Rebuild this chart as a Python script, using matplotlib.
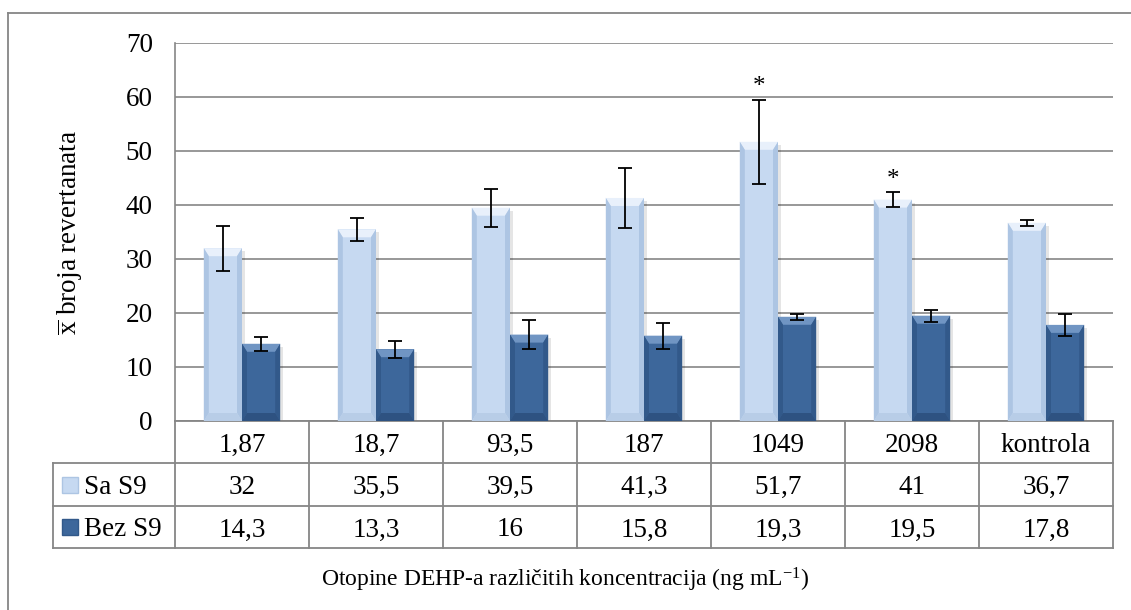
import matplotlib
matplotlib.use("Agg")
import matplotlib.pyplot as plt
from matplotlib.patches import Polygon, Rectangle
from matplotlib.lines import Line2D
import matplotlib.transforms as mtransforms
import numpy as np

plt.rcParams['font.family'] = ['Liberation Serif', 'DejaVu Serif']
plt.rcParams['mathtext.fontset'] = 'custom'
plt.rcParams['mathtext.rm'] = 'Liberation Serif'
plt.rcParams['mathtext.it'] = 'Liberation Serif:italic'

# ---------------- data ----------------
categories = ["1,87", "18,7", "93,5", "187", "1049", "2098", "kontrola"]
series_names = ["Sa S9", "Bez S9"]
sa_s9 = [32, 35.5, 39.5, 41.3, 51.7, 41, 36.7]
bez_s9 = [14.3, 13.3, 16, 15.8, 19.3, 19.5, 17.8]
sa_s9_err = [4.2, 2.1, 3.5, 5.5, 7.8, 1.4, 0.55]
bez_s9_err = [1.3, 1.6, 2.7, 2.4, 0.55, 1.1, 2.0]
sa_s9_labels = ["32", "35,5", "39,5", "41,3", "51,7", "41", "36,7"]
bez_s9_labels = ["14,3", "13,3", "16", "15,8", "19,3", "19,5", "17,8"]
significant = [False, False, False, False, True, True, False]
yticks = [0, 10, 20, 30, 40, 50, 60, 70]
ylabel = r"$\overline{\mathrm{x}}$ broja revertanata"
xlabel = "Otopine DEHP-a različitih koncentracija (ng mL$^{-1}$)"

# ---------------- styles ----------------
W, H = 1131, 610
fig = plt.figure(figsize=(W / 100, H / 100), dpi=100)
ax = fig.add_axes([175 / W, 1 - 421 / H, (1113 - 175) / W, (421 - 43) / H])

light = dict(face="#c6d9f1", top="#e8f0fb", side="#adc5e3", bot="#b8cde7")
dark = dict(face="#3d679b", top="#7095c3", side="#32598a", bot="#2e5281")
grid_c = "#868686"
fs = 19.5

x = np.arange(len(categories))
bw = 0.285

ax.set_xlim(-0.5, len(categories) - 0.5)
ax.set_ylim(0, 70)
ax.set_yticks(yticks)
ax.set_xticks([])
ax.grid(axis="y", color=grid_c, linewidth=1.2, zorder=0)
ax.set_axisbelow(True)
for s in ["top", "right", "bottom"]:
    ax.spines[s].set_visible(False)
ax.spines["left"].set_color(grid_c)
ax.spines["left"].set_linewidth(1.2)
ax.tick_params(axis="y", length=0, pad=16, labelsize=fs)

def bevel(ax, rects, st):
    px_x = (ax.get_xlim()[1] - ax.get_xlim()[0]) / (1113 - 175)
    px_y = (ax.get_ylim()[1] - ax.get_ylim()[0]) / (421 - 43)
    for r in rects:
        x0, w, h = r.get_x(), r.get_width(), r.get_height()
        x1 = x0 + w
        dx, dy = 5 * px_x, 8 * px_y
        ax.add_patch(Rectangle((x0 + 3 * px_x, 0), w, h - 3 * px_y, facecolor="#000000",
                               alpha=0.10, edgecolor="none", zorder=2))
        ax.add_patch(Polygon([(x0, h), (x1, h), (x1 - dx, h - dy), (x0 + dx, h - dy)],
                             closed=True, facecolor=st["top"], edgecolor="none", zorder=4))
        ax.add_patch(Polygon([(x0, h), (x0 + dx, h - dy), (x0 + dx, dy), (x0, 0)],
                             closed=True, facecolor=st["side"], edgecolor="none", zorder=4))
        ax.add_patch(Polygon([(x1, h), (x1 - dx, h - dy), (x1 - dx, dy), (x1, 0)],
                             closed=True, facecolor=st["side"], edgecolor="none", zorder=4))
        ax.add_patch(Polygon([(x0, 0), (x1, 0), (x1 - dx, dy), (x0 + dx, dy)],
                             closed=True, facecolor=st["bot"], edgecolor="none", zorder=4))

b1 = ax.bar(x - bw / 2, sa_s9, bw, color=light["face"], edgecolor="none", zorder=3)
b2 = ax.bar(x + bw / 2, bez_s9, bw, color=dark["face"], edgecolor="none", zorder=3)
bevel(ax, b1, light)
bevel(ax, b2, dark)

ax.errorbar(x - bw / 2, sa_s9, yerr=sa_s9_err, fmt="none", ecolor="black",
            elinewidth=1.3, capsize=4.7, capthick=1.3, zorder=6)
ax.errorbar(x + bw / 2, bez_s9, yerr=bez_s9_err, fmt="none", ecolor="black",
            elinewidth=1.3, capsize=4.7, capthick=1.3, zorder=6)

for i, sig in enumerate(significant):
    if sig:
        ax.annotate("*", xy=(x[i] - bw / 2, sa_s9[i] + sa_s9_err[i]), xytext=(0, 1),
                    textcoords="offset points", ha="center", va="bottom", fontsize=18,
                    zorder=7)

ax.set_ylabel(ylabel, fontsize=fs)
ax.yaxis.set_label_coords(-0.096, 0.5)

# ---------------- data table ----------------
tr = mtransforms.blended_transform_factory(ax.transData, ax.transAxes)
ah = 421 - 43
aw = 1113 - 175
def yfrac(py):
    return (421 - py) / ah
row_edges = [421, 463, 506, 548]
leg_left = (53 - 175) / aw
lkw = dict(color=grid_c, linewidth=1.3, clip_on=False, transform=ax.transAxes)
ax.add_line(Line2D([0, 1], [yfrac(421)] * 2, **lkw))
for py in row_edges[1:]:
    ax.add_line(Line2D([leg_left, 1], [yfrac(py)] * 2, **lkw))
for k in range(len(categories) + 1):
    xf = k / len(categories)
    ax.add_line(Line2D([xf, xf], [yfrac(421), yfrac(548)], **lkw))
ax.add_line(Line2D([leg_left, leg_left], [yfrac(463), yfrac(548)], **lkw))

rows = [categories, sa_s9_labels, bez_s9_labels]
for r, labels in enumerate(rows):
    yc = yfrac((row_edges[r] + row_edges[r + 1]) / 2)
    for i, lab in enumerate(labels):
        ax.text(x[i], yc, lab, transform=tr, ha="center", va="center_baseline",
                fontsize=fs, clip_on=False)

styles = [light, dark]
for r, name in enumerate(series_names):
    yc = yfrac((row_edges[r + 1] + row_edges[r + 2]) / 2)
    kx0 = (62 - 175) / aw
    kw_ = 16 / aw
    kh = 16 / ah
    ax.add_patch(Rectangle((kx0, yc - kh / 2), kw_, kh, transform=ax.transAxes,
                           facecolor=styles[r]["face"], edgecolor=styles[r]["side"],
                           linewidth=1.0, clip_on=False))
    ax.text((84 - 175) / aw, yc, name, transform=ax.transAxes, ha="left",
            va="center_baseline", fontsize=fs, clip_on=False)

fig.text(0.5, 1 - 580 / H, xlabel, ha="center", va="center", fontsize=17)

# outer chart border
fig.add_artist(Line2D([8 / W, 8 / W], [0, 1 - 13 / H], color=grid_c, linewidth=1.3,
                      transform=fig.transFigure))
fig.add_artist(Line2D([8 / W, 1], [1 - 13 / H, 1 - 13 / H], color=grid_c, linewidth=1.3,
                      transform=fig.transFigure))

fig.savefig("out.png", dpi=100, facecolor="white")
